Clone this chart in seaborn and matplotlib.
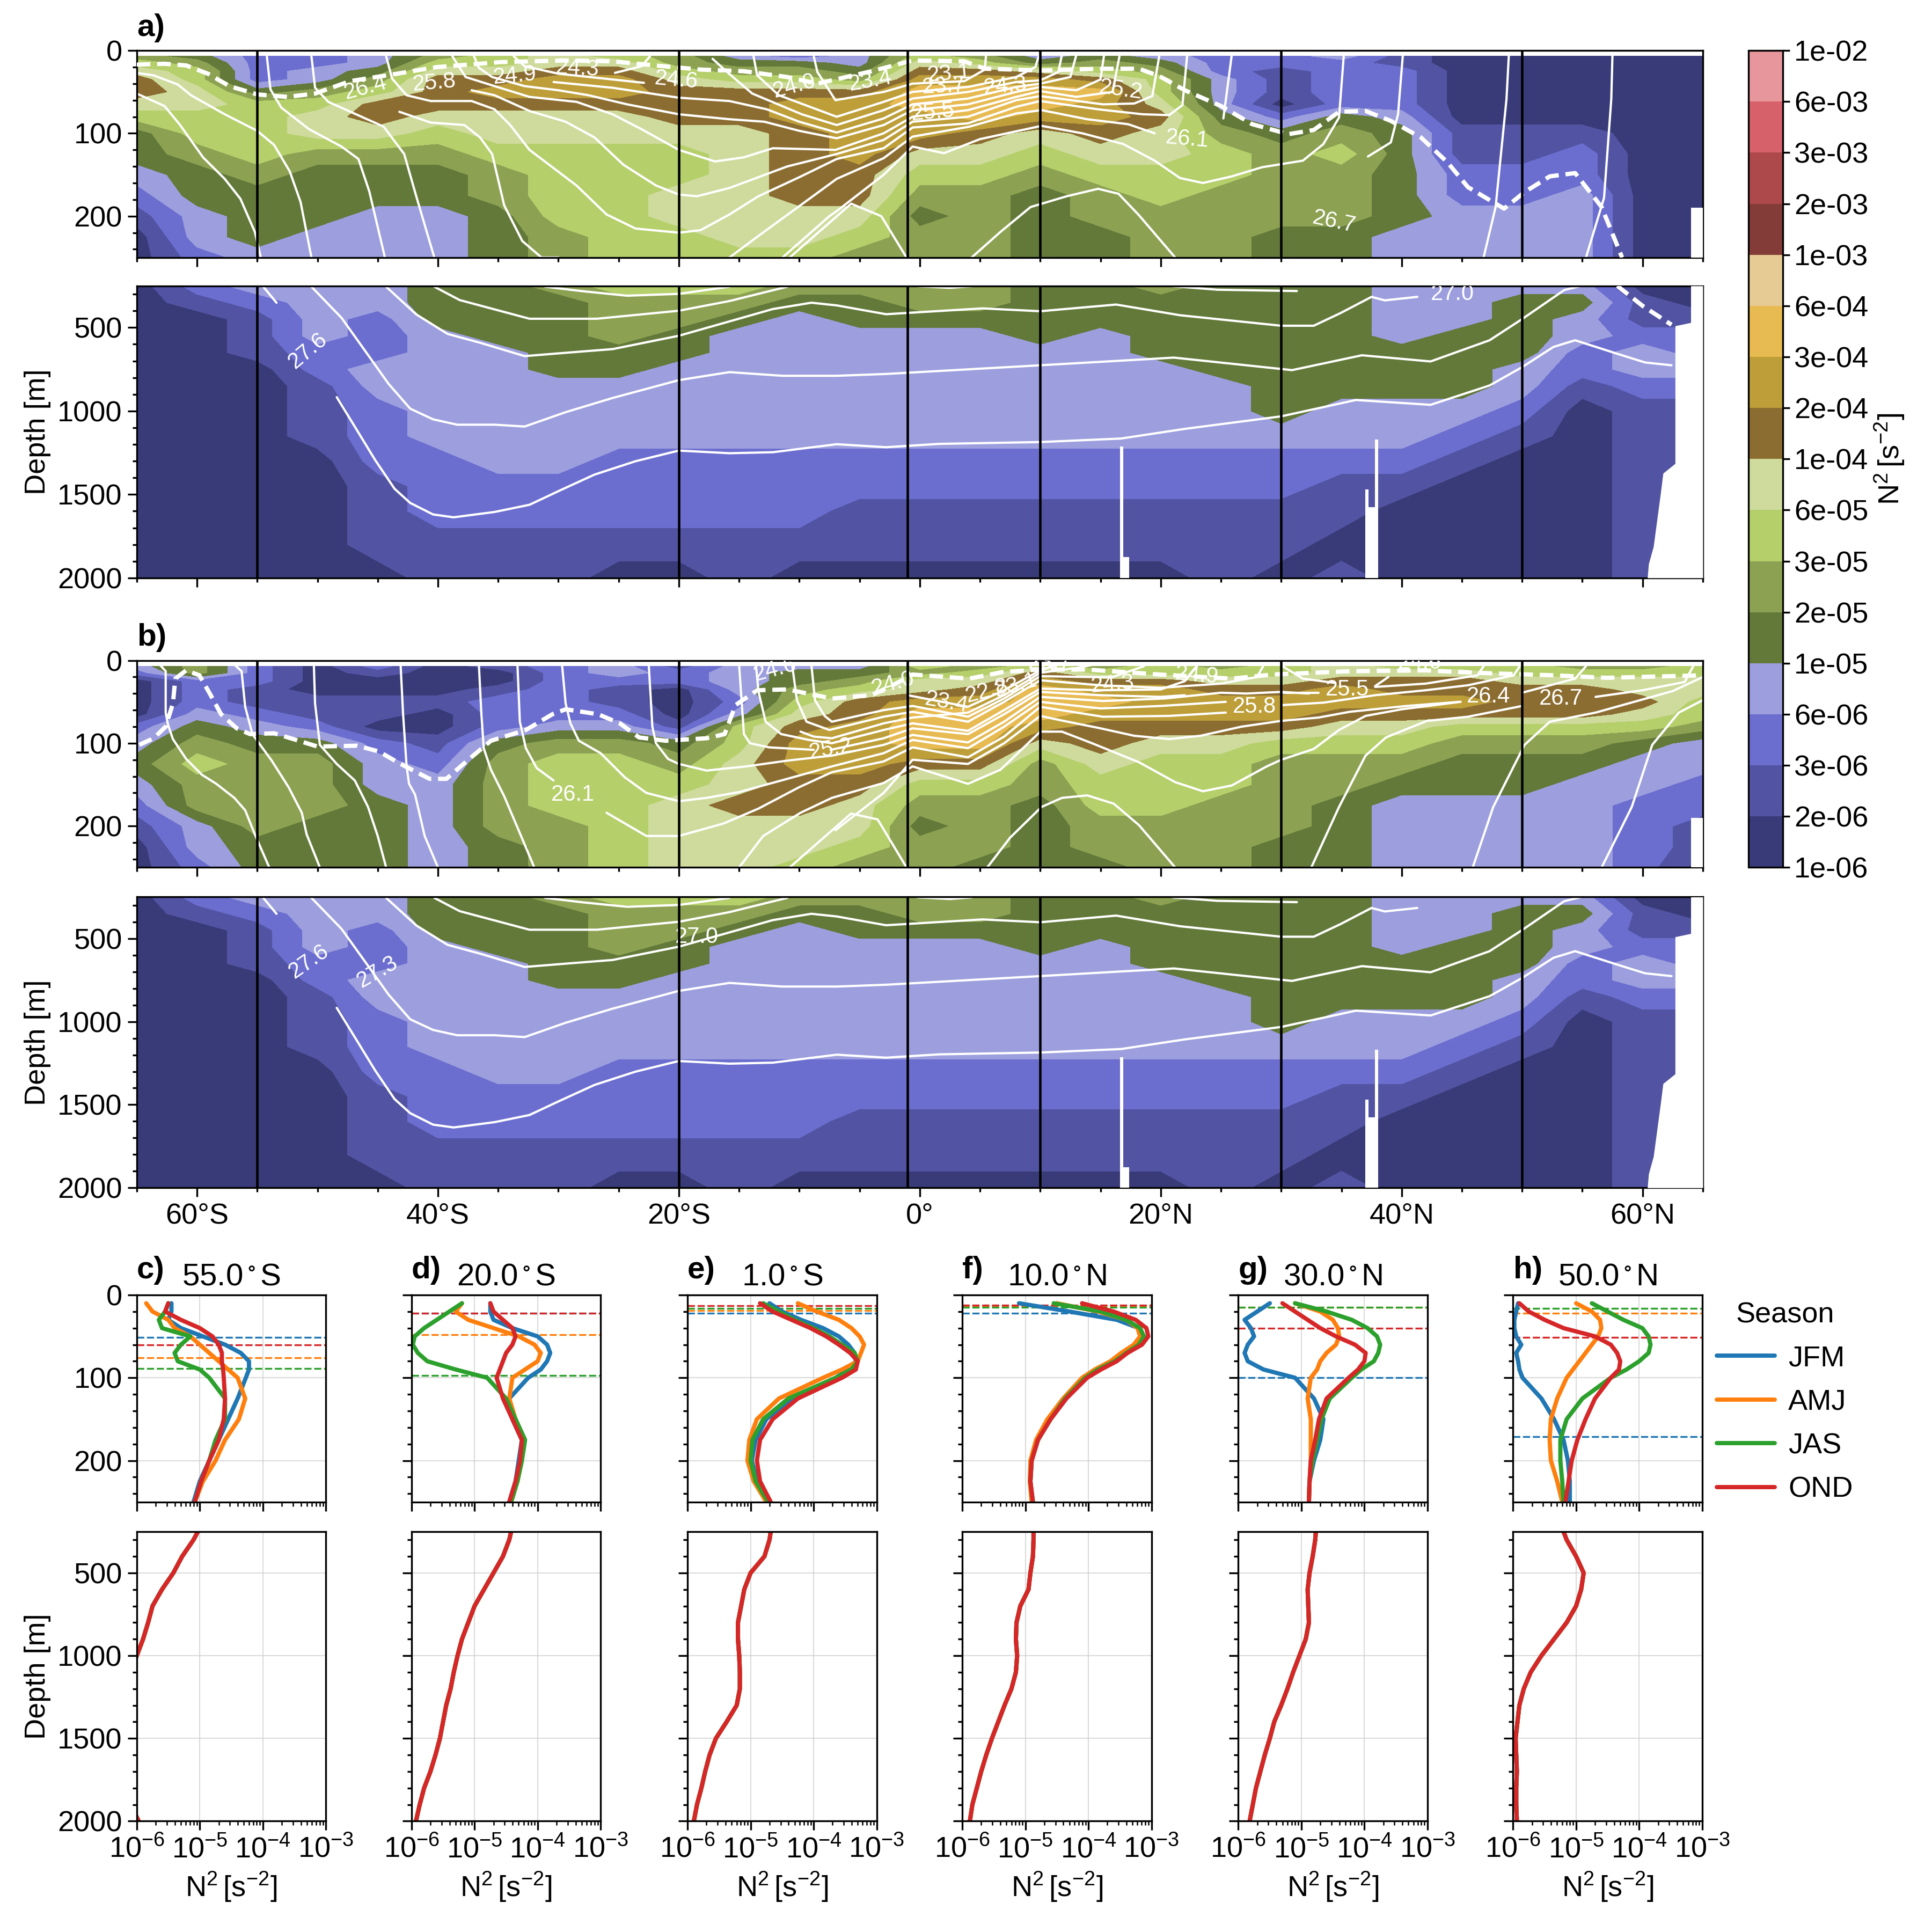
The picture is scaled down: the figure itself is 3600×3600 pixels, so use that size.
import numpy as np
import pandas as pd
import matplotlib
matplotlib.use("Agg")
import matplotlib.pyplot as plt
from matplotlib.colors import BoundaryNorm
from matplotlib.cm import ScalarMappable
from matplotlib.ticker import FixedLocator, NullFormatter, LogLocator
import seaborn as sns

# section grids, colour class of each cell (0 = 1e-06..2e-06 ... 15 = 6e-03..1e-02)
section_lat = [-65, -60, -55, -50, -45, -40, -35, -30, -25, -20, -15, -10, -5, 0, 5, 10, 15, 20, 25, 30, 35, 40, 45, 50, 55, 60, 65]
upper_depth = [7, 15, 25, 35, 50, 65, 80, 100, 125, 150, 175, 200, 225, 250]
deep_depth = [250, 350, 450, 550, 650, 750, 850, 1000, 1150, 1300, 1450, 1600, 1800, 2000]

a_upper = [
    [5, 6, 7, 8, 8, 7, 6, 4, 4, 3, 2, 1, 0, 0],
    [4, 5, 6, 6, 7, 7, 6, 6, 5, 4, 4, 3, 3, 2],
    [2, 2, 2, 2, 4, 6, 6, 6, 6, 5, 4, 4, 4, 3],
    [2, 2, 3, 3, 5, 6, 7, 7, 5, 4, 4, 4, 3, 3],
    [3, 3, 4, 5, 6, 8, 8, 7, 5, 4, 4, 3, 3, 3],
    [5, 6, 7, 8, 8, 8, 7, 6, 5, 4, 4, 3, 3, 3],
    [6, 6, 7, 8, 9, 8, 7, 7, 6, 5, 5, 4, 4, 4],
    [7, 7, 8, 9, 9, 8, 7, 7, 6, 6, 6, 6, 5, 5],
    [6, 7, 8, 9, 9, 8, 7, 7, 6, 6, 6, 6, 6, 6],
    [5, 5, 6, 7, 8, 8, 8, 7, 6, 6, 7, 7, 6, 6],
    [3, 4, 5, 6, 8, 8, 8, 7, 7, 7, 7, 7, 7, 6],
    [2, 4, 5, 6, 8, 9, 9, 8, 8, 8, 8, 7, 7, 6],
    [3, 3, 4, 5, 8, 9, 9, 9, 9, 8, 8, 7, 6, 5],
    [6, 7, 8, 9, 10, 10, 9, 9, 7, 6, 5, 4, 5, 5],
    [5, 6, 8, 9, 10, 10, 10, 8, 7, 6, 5, 5, 5, 5],
    [3, 4, 7, 9, 10, 10, 9, 7, 6, 5, 4, 4, 4, 4],
    [4, 5, 6, 8, 10, 9, 9, 8, 7, 6, 5, 5, 4, 4],
    [3, 4, 5, 6, 6, 7, 8, 7, 7, 6, 6, 5, 5, 5],
    [2, 2, 2, 3, 3, 3, 4, 5, 6, 6, 5, 5, 5, 5],
    [2, 2, 1, 1, 1, 0, 2, 4, 5, 5, 5, 5, 4, 4],
    [3, 2, 2, 2, 2, 2, 4, 5, 6, 5, 5, 5, 4, 4],
    [1, 1, 2, 2, 2, 2, 3, 4, 4, 4, 4, 4, 3, 3],
    [0, 0, 0, 0, 0, 0, 0, 1, 1, 2, 2, 3, 3, 3],
    [0, 0, 0, 0, 0, 0, 0, 1, 1, 2, 2, 3, 3, 3],
    [0, 0, 0, 0, 0, 0, 0, 1, 2, 2, 3, 3, 3, 3],
    [0, 0, 0, 0, 0, 0, 0, 0, 0, 0, 0, 0, 0, 0],
    [0, 0, 0, 0, 0, 0, 0, 0, 0, 0, 0, 0, 0, 0],
]
b_upper = [
    [3, 2, 0, 0, 0, 0, 2, 3, 4, 3, 2, 1, 0, 0],
    [5, 5, 2, 2, 2, 3, 4, 5, 6, 5, 5, 3, 3, 2],
    [2, 2, 2, 1, 1, 2, 3, 4, 5, 5, 5, 5, 4, 4],
    [0, 0, 0, 0, 1, 1, 2, 4, 5, 5, 5, 4, 4, 4],
    [2, 1, 0, 0, 1, 1, 0, 2, 3, 3, 4, 4, 4, 4],
    [0, 0, 0, 0, 1, 0, 0, 1, 2, 3, 3, 3, 3, 3],
    [1, 0, 0, 1, 2, 2, 2, 4, 5, 5, 5, 5, 4, 4],
    [2, 2, 2, 2, 2, 2, 3, 5, 6, 6, 6, 5, 5, 5],
    [3, 3, 2, 1, 1, 2, 3, 5, 6, 6, 6, 6, 6, 6],
    [1, 2, 2, 0, 0, 0, 1, 4, 5, 6, 7, 7, 7, 7],
    [3, 3, 3, 3, 2, 3, 6, 6, 7, 7, 8, 7, 7, 7],
    [3, 4, 4, 5, 6, 7, 8, 9, 9, 8, 8, 7, 7, 6],
    [3, 4, 5, 6, 8, 8, 9, 9, 9, 8, 7, 7, 6, 5],
    [6, 5, 7, 7, 9, 10, 10, 10, 8, 6, 5, 4, 5, 5],
    [5, 6, 7, 8, 9, 10, 10, 10, 8, 6, 5, 5, 5, 4],
    [6, 8, 9, 10, 10, 10, 9, 7, 5, 5, 4, 4, 4, 4],
    [5, 6, 8, 9, 10, 9, 8, 8, 7, 6, 6, 5, 5, 4],
    [6, 6, 8, 9, 9, 9, 8, 7, 6, 6, 6, 5, 5, 5],
    [5, 6, 7, 8, 9, 9, 8, 7, 6, 6, 5, 5, 5, 5],
    [6, 6, 7, 8, 9, 9, 8, 6, 5, 5, 5, 5, 4, 4],
    [7, 7, 8, 9, 9, 8, 7, 6, 5, 5, 4, 4, 4, 4],
    [6, 7, 8, 8, 9, 8, 7, 6, 5, 4, 3, 3, 3, 3],
    [6, 7, 8, 8, 9, 8, 6, 5, 4, 4, 3, 3, 3, 3],
    [6, 6, 7, 8, 8, 8, 6, 5, 4, 4, 3, 3, 3, 3],
    [5, 6, 7, 8, 8, 8, 6, 5, 4, 3, 3, 3, 3, 3],
    [5, 6, 7, 7, 8, 7, 6, 4, 3, 3, 2, 2, 2, 2],
    [6, 6, 7, 7, 6, 6, 5, 3, 3, 2, 2, 1, 1, 0],
]
n2_deep = [
    [0, 0, 0, 0, 0, 0, 0, 0, 0, 0, 0, 0, 0, 0],
    [2, 1, 0, 0, 0, 0, 0, 0, 0, 0, 0, 0, 0, 0],
    [3, 2, 1, 1, 1, 0, 0, 0, 0, 0, 0, 0, 0, 0],
    [3, 3, 3, 3, 2, 2, 1, 1, 1, 0, 0, 0, 0, 0],
    [3, 3, 2, 2, 2, 3, 3, 2, 2, 2, 1, 1, 1, 0],
    [4, 4, 4, 3, 3, 3, 3, 3, 3, 2, 2, 2, 1, 1],
    [4, 4, 4, 4, 3, 3, 3, 3, 3, 3, 2, 2, 1, 1],
    [5, 4, 4, 4, 4, 4, 3, 3, 3, 3, 2, 2, 1, 1],
    [6, 5, 5, 5, 4, 4, 3, 3, 3, 2, 2, 2, 1, 0],
    [6, 5, 5, 4, 4, 3, 3, 3, 3, 2, 2, 2, 1, 0],
    [6, 5, 4, 3, 3, 3, 3, 3, 3, 2, 2, 2, 1, 1],
    [5, 4, 3, 3, 3, 3, 3, 3, 3, 2, 2, 2, 1, 0],
    [5, 4, 4, 3, 3, 3, 3, 3, 3, 2, 2, 1, 1, 0],
    [5, 5, 4, 3, 3, 3, 3, 3, 3, 2, 2, 1, 1, 0],
    [5, 5, 4, 3, 3, 3, 3, 3, 3, 2, 2, 1, 1, 0],
    [4, 4, 4, 4, 3, 3, 3, 3, 3, 2, 2, 1, 1, 0],
    [4, 4, 4, 3, 3, 3, 3, 3, 3, 2, 2, 1, 1, 0],
    [5, 4, 4, 4, 4, 3, 3, 3, 3, 2, 2, 1, 1, 0],
    [4, 4, 4, 4, 4, 4, 3, 3, 3, 2, 2, 1, 1, 1],
    [4, 4, 4, 4, 4, 4, 4, 4, 3, 2, 2, 1, 1, 0],
    [4, 4, 4, 4, 4, 4, 4, 3, 3, 2, 1, 1, 0, 1],
    [3, 3, 3, 3, 4, 4, 4, 3, 3, 2, 1, 0, 0, 0],
    [3, 3, 3, 4, 4, 4, 4, 3, 2, 1, 0, 0, 0, 0],
    [3, 4, 4, 4, 4, 3, 3, 2, 1, 0, 0, 0, 0, 0],
    [3, 4, 3, 3, 2, 2, 1, 0, 0, 0, 0, 0, 0, 0],
    [0, 1, 1, 2, 3, 3, 2, 1, 1, 1, 1, 1, 1, 1],
    [0, 0, 1, 2, 2, 3, 2, 1, 1, 1, 1, 1, 1, 1],
]

# isopycnals (latitude, depth)
a_iso = [
    ([-65, -63.6, -61.6, -60.5, -57.7, -55, -53.6, -52.3, -51.4, -50.5], [27, 30, 41, 54, 77, 97, 114, 146, 183, 250]),
    ([-65, -62.7, -61.4, -59.5, -57.7, -56.4, -55.2, -54.7], [52, 67, 90, 129, 155, 179, 219, 250]),
    ([-54.2, -53.9, -53, -50.7, -48, -46.6, -45.7, -44.4], [7, 47, 69, 95, 116, 131, 170, 250]),
    ([-50.5, -50.2, -49.1, -46.8, -44.5, -42.8, -41.8, -40.3], [7, 45, 62, 77, 92, 125, 176, 250]),
    ([-44.3, -43.8, -42.6, -40.6, -37.2, -35.3, -34, -32.4, -30.4, -28.5, -26, -23.6, -20, -18.2, -15.8, -13.4, -10, -6.9, -3, -0.6, 4, 8, 10, 14.8, 18.5, 20.7, 21.8, 22.2],
     [7, 34, 54, 61, 61, 71, 90, 120, 142, 163, 198, 215, 220, 217, 198, 176, 153, 131, 118, 93, 88, 68, 61, 71, 77, 78, 66, 5]),
    ([-43.2, -40.6, -37.8, -36.5, -35.5, -34.5, -33, -31.4, -30], [74, 87, 90, 105, 125, 187, 230, 250, 250]),
    ([-38.8, -37.7, -35.3, -32.4, -28.5, -25.5, -23.1, -20, -17, -14.6, -12.2, -9.5, -7, -3, -0.6, 4, 8, 10, 13, 16, 16.6], [7, 32, 43, 56, 62, 77, 95, 120, 134, 129, 118, 119, 120, 100, 80, 72, 56, 49, 56, 50, 5]),
    ([-37, -36.6, -35.5, -32.8, -30, -27.5, -24.3, -20, -15.8, -12.9, -10, -6.9, -3, -0.6, 4, 8, 10, 13, 15, 15.3], [7, 21, 32, 43, 48, 54, 65, 77, 83, 86, 97, 106, 90, 72, 65, 50, 44, 48, 35, 5]),
    ([-33.7, -32.8, -30, -22.9], [7, 19, 28, 39]),
    ([-30.4, -25.5, -20, -15.8, -12.7, -10, -6.9, -3, -0.6, 4, 8, 10, 12.5, 13], [38, 45, 57, 61, 71, 86, 99, 82, 65, 58, 44, 40, 32, 5]),
    ([-37.2, -35.3, -32.4, -29.4, -27, -24.6, -21.9, -20, -18.5, -15.8, -13.4, -11, -6.9, -3, -0.6, 4, 8, 10, 15.2, 17.8, 19.3, 19.9], [48, 54, 73, 86, 105, 138, 163, 174, 176, 166, 153, 140, 125, 108, 86, 80, 60, 55, 65, 64, 55, 5]),
    ([-25.3, -23.1, -22.4], [27, 19, 7]),
    ([-17.2, -16, -13.9, -9.8, -6.9, -3, -0.6, 4, 8, 10, 11.5, 11.8], [10, 26, 52, 77, 90, 72, 58, 50, 38, 36, 26, 5]),
    ([-13.8, -13.5, -11.7, -6.9, -3, -0.6, 4, 8, 9.6, 9.9], [7, 30, 54, 80, 62, 50, 44, 32, 20, 5]),
    ([-8.8, -8.5, -7, -3, -0.6, 3.7, 5.4, 5.5], [7, 26, 60, 50, 40, 37, 23, 5]),
    ([-15.8, -13.4, -6.9, -3, -0.6, 4.1, 8, 10.1, 13.9, 17.3, 19.5], [250, 224, 155, 130, 104, 92, 76, 72, 83, 89, 100]),
    ([-11.4, -7.5, -6.9, -3, -0.6, 2, 5, 10.1, 13.5, 16.9, 19.5, 21.6, 23.5, 25.9, 28.4, 31.8, 33.5, 34.8, 35.2],
     [250, 200, 194, 150, 116, 124, 107, 91, 100, 113, 133, 154, 160, 152, 141, 133, 113, 81, 5]),
    ([-10.8, -5.7, -3.2, -1.1], [250, 185, 200, 250]),
    ([4.3, 6.7, 9.2, 12.2, 14.8, 16.5, 18.2, 21.2], [250, 219, 189, 176, 167, 173, 199, 250]),
    ([25.2, 25.9], [82, 5]),
    ([37.2, 39.1, 39.7, 40.1], [128, 111, 77, 5]),
    ([46.8, 47.8, 48.7, 48.9], [250, 189, 59, 5]),
    ([55.3, 56.8, 57.4, 57.5], [250, 178, 59, 5]),
]
b_iso = [
    ([-63.1, -62.6, -62.6, -62.4, -62, -60.9, -59.6, -58.4, -56.9, -56, -55.2, -54], [5, 13, 63, 78, 95, 119, 138, 149, 166, 181, 210, 250]),
    ([-56.9, -56.3, -56, -55.4, -53.8, -52.4, -51.3, -50.9, -49.8], [5, 13, 56, 89, 121, 153, 184, 210, 250]),
    ([-50.3, -50.2, -49.8, -48.4, -46.9, -45.8, -45, -44.3], [5, 52, 102, 125, 145, 177, 212, 250]),
    ([-43.1, -42.9, -42.6, -42.4, -41.9, -41.1, -40], [5, 63, 128, 149, 162, 212, 250]),
    ([-36.6, -36.4, -36.2, -35.6, -34.5, -33.1, -32], [5, 63, 106, 132, 164, 212, 250]),
    ([-33.4, -33.2, -32.7, -31.8, -30.4], [5, 74, 106, 130, 145]),
    ([-26, -22.7, -20, -16.3, -13.4, -10, -7.3, -3, -0.6, 4, 7, 10, 15.2, 20.7, 25.4], [184, 212, 212, 197, 179, 153, 135, 122, 105, 117, 92, 56, 68, 67, 63]),
    ([30, 33.5, 37.8, 42, 45.5, 49.3, 49.8], [54, 51, 42, 36, 30, 18, 7]),
    ([-29.7, -29.4, -29, -28.3, -26.5, -24.5, -22.7, -20, -17.7, -15, -11, -7.3, -3, -0.6, 4, 7, 10, 15, 20, 25.4], [5, 52, 76, 97, 112, 141, 160, 170, 166, 159, 143, 128, 112, 96, 106, 80, 50, 58, 55, 50]),
    ([30, 33.1], [39, 39]),
    ([37.8, 42, 46.3, 46.8], [32, 28, 18, 7]),
    ([-22.5, -22.2, -21.9, -20.9, -20, -17.7, -14.4, -11, -7.3, -3, -0.6, 4, 7, 10, 15.2, 20.3, 25, 27.1, 30, 32.3], [5, 80, 100, 119, 125, 133, 128, 121, 115, 102, 90, 99, 74, 44, 49, 46, 39, 40, 38, 40]),
    ([-15, -13, -9.9, -7.3, -3, -0.6, 4, 6.7, 10, 11.8, 14.3, 18.2, 21.2, 23.5, 25.9, 28.8, 30, 32.7, 34.8, 37, 40, 44.9],
     [250, 212, 184, 166, 148, 128, 149, 132, 86, 86, 100, 123, 147, 158, 151, 128, 120, 107, 84, 67, 59, 50]),
    ([50, 54.4, 55.3], [39, 22, 7]),
    ([-15, -14.6, -14.1, -12.5, -8.8], [5, 89, 100, 105, 108]),
    ([-7.4, -3, -0.6, 4, 7, 10, 15, 20, 22], [108, 94, 82, 89, 65, 38, 42, 44, 42]),
    ([-13.6, -13.4, -12.8, -11.5, -9.2, -7.3, -3, -0.6, 4, 7, 10, 15, 20, 22, 23], [5, 37, 74, 89, 96, 100, 84, 76, 85, 60, 34, 36, 35, 25, 7]),
    ([-10.6, -10.2, -9.4, -7.5, -3, -0.6, 4, 7, 10, 15, 20, 25, 28, 28.5], [5, 48, 74, 84, 68, 62, 74, 50, 24, 30, 33, 28, 20, 7]),
    ([-9, -8.7, -7.9, -7.3, -3, -0.6, 4, 7, 10, 14, 16, 18.6], [5, 48, 67, 74, 60, 55, 68, 46, 19, 20, 20, 7]),
    ([-9.9, -8.8, -7.3, -3, -0.6, 4, 7, 10, 13, 14.5], [86, 92, 94, 76, 69, 63, 42, 15, 9, 5]),
    ([-1, 4, 7, 10, 11.5], [42, 56, 36, 12, 5]),
    ([-7, -3, -0.6, 4, 7, 10, 11.6, 15, 17.8, 20.7, 23.3, 26.7, 30, 33.1, 35.7, 40.4, 44.8], [205, 160, 120, 125, 100, 67, 72, 82, 91, 95, 91, 80, 73, 69, 62, 55, 50]),
    ([-10.8, -5.7, -3.5, -1.1], [250, 185, 192, 250]),
    ([5.6, 7.5, 10.1, 11.8, 13.9, 16.1, 18.2, 21.2], [250, 214, 177, 166, 163, 173, 199, 250]),
    ([32.5, 34.8, 37, 38.7, 42.1, 45.5, 50], [250, 177, 115, 93, 73, 68, 55]),
    ([56.1, 60, 63.5, 64.2], [44, 36, 26, 7]),
    ([45.9, 47.6, 50.2, 52.3, 56.1, 62.5, 65], [250, 177, 102, 74, 63, 37, 20]),
    ([56.6, 59.1, 60.8, 63, 65], [250, 177, 102, 63, 48]),
    ([30.1, 31.8, 34.4], [7, 22, 27]),
    ([37.8, 38.9], [31, 20]),
]
deep_iso = [
    ([-54.5, -53.4], [255, 351]),
    ([-48.4, -47, -45.2, -43.6, -42.3, -40.4, -38.7, -35.3, -32.4, -29.9, -27, -23.6, -20, -15.8, -12.2, -6.9, -2.8, 1.6, 10, 16.7, 22, 30, 36.2, 42.4, 47.3, 50, 52.6, 54.4, 57.9, 60.2, 62.4],
     [917, 1082, 1295, 1466, 1551, 1620, 1637, 1605, 1562, 1477, 1381, 1301, 1237, 1253, 1247, 1199, 1217, 1197, 1186, 1165, 1107, 1032, 934, 963, 847, 737, 616, 576, 657, 709, 726]),
    ([-50.5, -48, -46.1, -44.1, -42.3, -40.4, -38.4, -35.3, -32.8, -29.4, -25.5, -20, -15.8, -11.4, -6.9, -2.8, 10, 21.1, 30.9, 36.7, 42.4, 47.3, 50, 53.5, 54.8],
     [255, 442, 634, 837, 986, 1050, 1082, 1082, 1093, 1007, 922, 815, 767, 789, 789, 778, 726, 680, 755, 666, 703, 576, 449, 275, 252]),
    ([-44.3, -41.8, -39.2, -36.5, -32.8, -29.2, -25.5, -20, -15.8, -12.2, -9, -6.9, -2.8, 5.2, 10, 16.3, 21.6, 30, 32.7, 34.9, 37.5, 38.6, 41.3],
     [255, 421, 538, 591, 671, 650, 629, 549, 463, 389, 351, 367, 420, 385, 402, 362, 426, 489, 489, 414, 316, 337, 316]),
    ([-40.3, -38.2, -32.4, -26.8, -20, -15.8, -11], [255, 335, 447, 447, 399, 341, 255]),
    ([-31.1, -28, -24.3, -20, -15.8], [255, 282, 309, 298, 255]),
    ([21, 24.7, 31.3], [252, 273, 281]),
    ([-0.2, 2.5, 4.3], [252, 262, 252]),
]

# dashed mixed layer lines
a_mld_lat = [-65, -62.7, -60.9, -59.1, -57.3, -55, -52.5, -50.2, -47.3, -43.4, -40.1, -34.8, -29.4, -25.5, -22, -18.2, -14.6, -11, -8.5, -4, -0.6, 3.7, 5.4, 10.1, 15.2, 18.2, 19.9, 22, 25, 27.6, 30.6, 32.7, 34.8, 37, 39.1, 41.6, 43.8, 45.5, 48.5, 50.2, 52.3, 54.4, 56.6, 58.3]
a_mld_depth = [17, 16, 18, 28, 43, 53, 56, 52, 37, 28, 20, 14, 12, 13, 18, 23, 25, 32, 40, 25, 12, 13, 22, 24, 22, 22, 31, 48, 67, 89, 101, 96, 74, 73, 85, 105, 135, 165, 191, 171, 152, 148, 189, 250]
a_mld_deep_lat = [57.9, 60, 62.4]
a_mld_deep_depth = [250, 370, 483]
b_mld_lat = [-64.8, -63.6, -62.6, -62, -61.8, -60.9, -59.8, -58.9, -58, -56.7, -55.6, -53.6, -52, -50, -46.7, -44.9, -43.1, -40.7, -39.3, -37.4, -35.6, -32.7, -30.5, -29.4, -26.7, -24.9, -23.3, -21.1, -17.7, -16.2, -15.3, -13.5, -11, -7.3, -4, -2, -0.6, 4.1, 6.9, 10, 13.9, 19.9, 25.9, 29.3, 35.7, 42, 46.3, 52.7, 57, 65]
b_mld_depth = [102, 94, 80, 52, 22, 12, 18, 41, 65, 82, 89, 88, 95, 104, 103, 110, 125, 143, 143, 119, 97, 84, 65, 59, 65, 76, 93, 97, 94, 89, 54, 36, 35, 46, 42, 28, 17, 22, 14, 11, 11, 17, 22, 17, 13, 12, 15, 18, 21, 18]

# contour labels
a_upper_labels = ["26.4", "25.8", "24.9", "24.3", "24.6", "24.0", "23.4", "23.1", "23.7", "24.3", "25.5", "25.2", "26.1", "26.7"]
a_upper_label_lat = [-46, -40.3, -33.6, -28.4, -20.2, -10.4, -4.1, 2.4, 2, 7.1, 1.1, 16.7, 22.2, 34.4]
a_upper_label_depth = [45, 39, 31, 22, 36, 43, 37, 28, 43, 43, 75, 48, 107, 207]
a_upper_label_rot = [15, 5, 5, -3, -5, 15, 10, 5, 3, 5, 5, -8, -5, -12]
b_upper_labels = ["24.6", "26.1", "25.2", "24.0", "23.4", "22.8", "23.1", "24.3", "24.9", "25.8", "25.5", "26.4", "26.7", "23.7", "24.6"]
b_upper_label_lat = [-12, -28.8, -7.4, -2.2, 2.2, 5.6, 8, 16, 23, 27.8, 35.5, 47.2, 53.2, 10.8, 41.5]
b_upper_label_depth = [11, 162, 107, 28, 51, 37, 30, 29, 18, 56, 35, 44, 46, 3, 3]
b_upper_label_rot = [15, 0, 10, 15, -10, 15, 15, 5, -5, 0, 0, 0, 0, 0, 0]
deep_a_labels = ["27.6", "27.0"]
deep_a_label_lat = [-50.8, 44.2]
deep_a_label_depth = [640, 298]
deep_a_label_rot = [40, 0]
deep_b_labels = ["27.6", "27.3", "27.0"]
deep_b_label_lat = [-50.7, -45, -18.5]
deep_b_label_depth = [640, 700, 490]
deep_b_label_rot = [35, 30, 0]

# places without data at the bottom and at the northern end
ridge1_lat = [16.6, 16.9, 17.4]
ridge1_top = [1213, 1875, 1875]
ridge2_lat = [36.96, 37.23, 37.76, 38.03]
ridge2_top = [1471, 1575, 1170, 1170]
coast_depth = [250, 470, 490, 1315, 1373, 1488, 1812, 1916, 2000]
coast_lat = [64, 64, 62.7, 62.7, 61.7, 61.5, 60.9, 60.5, 60.4]
upper_coast_depth = [190, 250]
upper_coast_lat = [64, 64]

# profiles
seasons = ["JFM", "AMJ", "JAS", "OND"]
season_colors = ["#1f77b4", "#ff7f0e", "#2ca02c", "#d62728"]
station_lat = [-55, -20, -1, 10, 30, 50]
station_titles = ["55.0$^\\circ$S", "20.0$^\\circ$S", "1.0$^\\circ$S", "10.0$^\\circ$N", "30.0$^\\circ$N", "50.0$^\\circ$N"]
station_tags = ["c)", "d)", "e)", "f)", "g)", "h)"]
profile_depth = [10, 20, 30, 40, 50, 60, 70, 80, 90, 100, 125, 150, 175, 200, 225, 250]
profile_deep_depth = [250, 300, 400, 500, 600, 700, 800, 900, 1000, 1100, 1200, 1300, 1400, 1500, 1600, 1700, 1800, 1900, 2000]

# log10(N2)
c_jfm = [-5.45, -5.45, -5.5, -5.3, -4.95, -4.6, -4.35, -4.22, -4.22, -4.27, -4.4, -4.55, -4.7, -4.85, -5.0, -5.1]
c_amj = [-5.85, -5.75, -5.5, -5.4, -5.15, -5.0, -4.85, -4.7, -4.55, -4.4, -4.28, -4.38, -4.6, -4.75, -4.95, -5.08]
c_jas = [-5.5, -5.55, -5.65, -5.6, -5.15, -5.3, -5.4, -5.35, -5.0, -4.85, -4.6, -4.6, -4.75, -4.85, -4.98, -5.08]
c_ond = [-5.5, -5.55, -5.3, -5.0, -4.8, -4.7, -4.65, -4.65, -4.63, -4.62, -4.6, -4.62, -4.7, -4.85, -4.98, -5.08]
d_jfm = [-4.75, -4.75, -4.7, -4.4, -4.0, -3.85, -3.8, -3.85, -3.95, -4.15, -4.45, -4.4, -4.25, -4.3, -4.35, -4.45]
d_amj = [-5.2, -5.3, -5.1, -4.7, -4.3, -4.05, -3.95, -4.0, -4.2, -4.4, -4.45, -4.35, -4.2, -4.25, -4.32, -4.42]
d_jas = [-5.2, -5.4, -5.6, -5.8, -5.95, -5.98, -5.9, -5.75, -5.3, -4.8, -4.5, -4.35, -4.2, -4.25, -4.32, -4.42]
d_ond = [-4.75, -4.7, -4.55, -4.4, -4.35, -4.4, -4.5, -4.55, -4.6, -4.65, -4.55, -4.4, -4.25, -4.28, -4.35, -4.45]
e_jfm = [-4.7, -4.5, -4.2, -3.85, -3.6, -3.45, -3.35, -3.33, -3.45, -3.65, -4.35, -4.75, -4.92, -4.98, -4.9, -4.7]
e_amj = [-4.25, -3.95, -3.6, -3.4, -3.27, -3.2, -3.25, -3.3, -3.55, -3.85, -4.55, -4.9, -5.02, -5.05, -4.95, -4.75]
e_jas = [-4.8, -4.55, -4.3, -4.0, -3.75, -3.55, -3.35, -3.3, -3.4, -3.65, -4.4, -4.8, -4.97, -5.0, -4.92, -4.72]
e_ond = [-4.85, -4.65, -4.35, -4.05, -3.8, -3.6, -3.42, -3.3, -3.33, -3.55, -4.25, -4.65, -4.85, -4.9, -4.85, -4.68]
f_jfm = [-5.1, -4.3, -3.55, -3.2, -3.15, -3.25, -3.45, -3.6, -3.85, -4.05, -4.35, -4.6, -4.8, -4.9, -4.92, -4.9]
f_amj = [-4.5, -3.85, -3.4, -3.22, -3.18, -3.28, -3.48, -3.65, -3.9, -4.1, -4.4, -4.65, -4.83, -4.92, -4.93, -4.9]
f_jas = [-4.55, -3.8, -3.4, -3.18, -3.12, -3.2, -3.4, -3.58, -3.85, -4.05, -4.37, -4.6, -4.8, -4.9, -4.92, -4.88]
f_ond = [-4.1, -3.6, -3.25, -3.08, -3.05, -3.15, -3.38, -3.55, -3.8, -4.02, -4.35, -4.6, -4.8, -4.9, -4.92, -4.88]
g_jfm = [-5.5, -5.7, -5.9, -5.8, -5.75, -5.85, -5.9, -5.85, -5.6, -5.1, -4.8, -4.65, -4.7, -4.8, -4.87, -4.88]
g_amj = [-5.1, -4.7, -4.5, -4.42, -4.4, -4.45, -4.6, -4.7, -4.75, -4.85, -4.9, -4.85, -4.85, -4.85, -4.87, -4.88]
g_jas = [-5.1, -4.6, -4.2, -3.95, -3.8, -3.75, -3.78, -3.85, -4.05, -4.2, -4.55, -4.68, -4.75, -4.82, -4.87, -4.88]
g_ond = [-5.3, -5.1, -4.9, -4.7, -4.45, -4.15, -3.98, -4.0, -4.1, -4.25, -4.6, -4.72, -4.78, -4.85, -4.87, -4.88]
h_jfm = [-5.92, -5.95, -5.98, -5.98, -5.95, -5.87, -5.95, -5.92, -5.9, -5.85, -5.55, -5.35, -5.2, -5.13, -5.1, -5.1]
h_amj = [-5.0, -4.75, -4.62, -4.6, -4.65, -4.75, -4.85, -4.95, -5.05, -5.15, -5.3, -5.4, -5.42, -5.4, -5.3, -5.22]
h_jas = [-4.75, -4.5, -4.25, -3.95, -3.85, -3.82, -3.85, -4.0, -4.2, -4.45, -4.9, -5.15, -5.25, -5.25, -5.22, -5.2]
h_ond = [-5.9, -5.75, -5.5, -5.2, -4.7, -4.45, -4.35, -4.3, -4.32, -4.45, -4.7, -4.85, -4.98, -5.07, -5.12, -5.17]

c_deep = [-5.03, -5.1, -5.28, -5.42, -5.6, -5.75, -5.82, -5.9, -6.0, -6.1, -6.2, -6.2, -6.2, -6.2, -6.2, -6.2, -6.2, -6.1, -5.97]
d_deep = [-4.42, -4.45, -4.55, -4.7, -4.85, -5.0, -5.1, -5.2, -5.27, -5.33, -5.38, -5.45, -5.5, -5.55, -5.62, -5.7, -5.8, -5.87, -5.93]
e_deep = [-4.68, -4.7, -4.78, -5.0, -5.1, -5.15, -5.2, -5.2, -5.18, -5.17, -5.17, -5.22, -5.38, -5.55, -5.65, -5.72, -5.78, -5.85, -5.9]
f_deep = [-4.87, -4.87, -4.88, -4.92, -4.95, -5.08, -5.14, -5.15, -5.13, -5.15, -5.22, -5.33, -5.43, -5.53, -5.62, -5.7, -5.77, -5.84, -5.88]
g_deep = [-4.77, -4.78, -4.82, -4.87, -4.9, -4.89, -4.88, -4.93, -5.03, -5.13, -5.22, -5.32, -5.43, -5.5, -5.58, -5.65, -5.72, -5.77, -5.82]
h_deep = [-5.2, -5.15, -5.0, -4.88, -4.92, -5.0, -5.15, -5.35, -5.55, -5.72, -5.83, -5.9, -5.93, -5.96, -5.95, -5.94, -5.95, -5.95, -5.94]

# mixed layer depth per station, order JFM AMJ JAS OND
c_mld = [51, 76, 89, 60]
d_mld = [22, 48, 97, 22]
e_mld = [22, 19, 16, 13]
f_mld = [22, 13, 15, 12]
g_mld = [100, 15, 15, 40]
h_mld = [171, 22, 16, 51]

upper_profiles = [[c_jfm, c_amj, c_jas, c_ond], [d_jfm, d_amj, d_jas, d_ond], [e_jfm, e_amj, e_jas, e_ond],
                  [f_jfm, f_amj, f_jas, f_ond], [g_jfm, g_amj, g_jas, g_ond], [h_jfm, h_amj, h_jas, h_ond]]
deep_profiles = [c_deep, d_deep, e_deep, f_deep, g_deep, h_deep]
station_mld = [c_mld, d_mld, e_mld, f_mld, g_mld, h_mld]

cbar_levels = [1e-6, 2e-6, 3e-6, 6e-6, 1e-5, 2e-5, 3e-5, 6e-5, 1e-4, 2e-4, 3e-4, 6e-4, 1e-3, 2e-3, 3e-3, 6e-3, 1e-2]
cbar_labels = ["1e-06", "2e-06", "3e-06", "6e-06", "1e-05", "2e-05", "3e-05", "6e-05", "1e-04", "2e-04", "3e-04", "6e-04", "1e-03", "2e-03", "3e-03", "6e-03", "1e-02"]

sns.set_theme(style="ticks")
plt.rcParams["font.family"] = ["Liberation Sans", "DejaVu Sans"]
plt.rcParams["mathtext.default"] = "regular"
plt.rcParams["axes.linewidth"] = 0.8
plt.rcParams["font.size"] = 13
for key in ["axes.edgecolor", "text.color", "xtick.color", "ytick.color", "axes.labelcolor"]:
    plt.rcParams[key] = "black"

FS = 13
W = 1568.0
N2_LABEL = "N$^2\\,$[s$^{-2}$]"


def box(left, top, right, bottom):
    # rectangle measured on the picture, origin top left
    return [left / W, 1 - bottom / W, (right - left) / W, (bottom - top) / W]


def draw_lines(ax, lines):
    for xs, ys in lines:
        sns.lineplot(x=xs, y=ys, ax=ax, color="white", lw=1.0, sort=False, estimator=None, legend=False, errorbar=None)


def draw_section(ax, grid, depth, lines, labels, label_lat, label_depth, label_rot):
    cmap = plt.get_cmap("tab20b")
    colors = [cmap(i) for i in range(16)]
    values = np.array(grid, dtype=float).T
    ax.contourf(section_lat, depth, values, levels=np.arange(-0.5, 16.5), colors=colors, antialiased=False)
    draw_lines(ax, lines)
    for t, la, de, ro in zip(labels, label_lat, label_depth, label_rot):
        ax.text(la, de, t, color="white", fontsize=10, rotation=ro, ha="center", va="center", rotation_mode="anchor", zorder=4, clip_on=True)
    for la in station_lat:
        ax.axvline(la, color="black", lw=1.1, zorder=5)
    ax.set_xlim(-65, 65)
    ax.set_xticks([-60, -40, -20, 0, 20, 40, 60])
    ax.xaxis.set_minor_locator(FixedLocator(np.arange(-65, 66, 5)))
    ax.tick_params(axis="x", which="major", length=4, width=0.8, labelbottom=False)
    ax.tick_params(axis="x", which="minor", length=2, width=0.8)
    ax.set_xlabel("")
    ax.set_ylabel("")


def style_depth(ax, deep):
    if deep:
        ax.set_ylim(2000, 250)
        ax.set_yticks([500, 1000, 1500, 2000])
        ax.yaxis.set_minor_locator(FixedLocator(np.arange(300, 2001, 100)))
    else:
        ax.set_ylim(250, 0)
        ax.set_yticks([0, 100, 200])
        ax.yaxis.set_minor_locator(FixedLocator(np.arange(0, 251, 20)))
    ax.tick_params(axis="y", which="major", length=4, width=0.8, labelsize=FS, pad=2.5)
    ax.tick_params(axis="y", which="minor", length=2, width=0.8)


def cover_deep(ax):
    ax.fill_between(ridge1_lat, ridge1_top, 2000, step="post", color="white", lw=0, zorder=3)
    ax.fill_between(ridge2_lat, ridge2_top, 2000, step="post", color="white", lw=0, zorder=3)
    ax.fill_betweenx(coast_depth, coast_lat, 65, color="white", lw=0, zorder=3)


fig = plt.figure(figsize=(12, 12), dpi=300, facecolor="white")

ax_a1 = fig.add_axes(box(111, 41, 1382, 209))
ax_a2 = fig.add_axes(box(111, 232, 1382, 469))
ax_b1 = fig.add_axes(box(111, 536, 1382, 704))
ax_b2 = fig.add_axes(box(111, 728, 1382, 964))

draw_section(ax_a1, a_upper, upper_depth, a_iso, a_upper_labels, a_upper_label_lat, a_upper_label_depth, a_upper_label_rot)
draw_section(ax_a2, n2_deep, deep_depth, deep_iso, deep_a_labels, deep_a_label_lat, deep_a_label_depth, deep_a_label_rot)
draw_section(ax_b1, b_upper, upper_depth, b_iso, b_upper_labels, b_upper_label_lat, b_upper_label_depth, b_upper_label_rot)
draw_section(ax_b2, n2_deep, deep_depth, deep_iso, deep_b_labels, deep_b_label_lat, deep_b_label_depth, deep_b_label_rot)

for ax in [ax_a2, ax_b2]:
    cover_deep(ax)
ax_a1.fill_betweenx(upper_coast_depth, upper_coast_lat, 65, color="white", lw=0, zorder=3)
ax_b1.fill_betweenx(upper_coast_depth, upper_coast_lat, 65, color="white", lw=0, zorder=3)

for ax, lat, dep in [(ax_a1, a_mld_lat, a_mld_depth), (ax_a2, a_mld_deep_lat, a_mld_deep_depth), (ax_b1, b_mld_lat, b_mld_depth)]:
    sns.lineplot(x=lat, y=dep, ax=ax, color="white", lw=1.9, sort=False, estimator=None, legend=False, errorbar=None,
                 linestyle=(0, (3.2, 1.6)), zorder=4)

style_depth(ax_a1, False)
style_depth(ax_b1, False)
style_depth(ax_a2, True)
style_depth(ax_b2, True)

ax_b2.set_xticklabels(["60°S", "40°S", "20°S", "0°", "20°N", "40°N", "60°N"])
ax_b2.tick_params(axis="x", which="major", labelbottom=True, labelsize=FS, pad=2.5)
ax_a2.set_ylabel("Depth [m]", fontsize=FS, labelpad=3)
ax_b2.set_ylabel("Depth [m]", fontsize=FS, labelpad=3)
ax_a1.text(0, 1.04, "a)", transform=ax_a1.transAxes, fontsize=14, fontweight="bold", va="bottom", ha="left")
ax_b1.text(0, 1.04, "b)", transform=ax_b1.transAxes, fontsize=14, fontweight="bold", va="bottom", ha="left")

# shared colour bar
norm = BoundaryNorm(cbar_levels, 16)
cax = fig.add_axes(box(1419, 41, 1447, 704))
cb = fig.colorbar(ScalarMappable(norm=norm, cmap=plt.get_cmap("tab20b")), cax=cax, spacing="uniform", ticks=cbar_levels)
cb.ax.set_yticklabels(cbar_labels)
cb.ax.minorticks_off()
cb.ax.tick_params(labelsize=FS, length=3, width=0.8, pad=2)
cb.outline.set_linewidth(0.8)
cb.set_label(N2_LABEL, fontsize=FS, labelpad=2)

# profile columns
col_left = [111, 334, 558, 781, 1005, 1228]
for i in range(6):
    left = col_left[i]
    ax_u = fig.add_axes(box(left, 1051, left + 153.5, 1219))
    ax_d = fig.add_axes(box(left, 1243, left + 153.5, 1478))
    for ax in [ax_u, ax_d]:
        ax.set_xscale("log")
    rows = []
    for s, vals in zip(seasons, upper_profiles[i]):
        for de, v in zip(profile_depth, vals):
            rows.append({"depth": de, "n2": 10.0 ** v, "Season": s})
    df_u = pd.DataFrame(rows)
    sns.lineplot(data=df_u, x="n2", y="depth", hue="Season", hue_order=seasons, palette=season_colors, ax=ax_u,
                 sort=False, estimator=None, lw=1.9, orient="y", legend=(i == 5), errorbar=None)
    rows = []
    for s in seasons:
        for de, v in zip(profile_deep_depth, deep_profiles[i]):
            rows.append({"depth": de, "n2": 10.0 ** v, "Season": s})
    df_d = pd.DataFrame(rows)
    sns.lineplot(data=df_d, x="n2", y="depth", hue="Season", hue_order=seasons, palette=season_colors, ax=ax_d,
                 sort=False, estimator=None, lw=1.9, orient="y", legend=False, errorbar=None)
    for de, col in zip(station_mld[i], season_colors):
        ax_u.axhline(de, color=col, lw=0.8, ls=(0, (4, 1.5)), zorder=1)
    for ax, deep in [(ax_u, False), (ax_d, True)]:
        style_depth(ax, deep)
        ax.set_xlim(1e-6, 1e-3)
        ax.xaxis.set_major_locator(LogLocator(base=10, numticks=6))
        ax.xaxis.set_minor_locator(LogLocator(base=10, subs=np.arange(2, 10), numticks=12))
        ax.xaxis.set_minor_formatter(NullFormatter())
        ax.tick_params(axis="x", which="major", length=4, width=0.8, labelsize=FS, pad=2.5)
        ax.tick_params(axis="x", which="minor", length=2, width=0.6)
        ax.grid(True, which="major", color="#cccccc", lw=0.5, alpha=0.7)
        ax.set_axisbelow(True)
        ax.set_xlabel("")
        ax.set_ylabel("")
        if i > 0:
            ax.tick_params(axis="y", labelleft=False)
    ax_u.tick_params(axis="x", labelbottom=False)
    ax_d.set_xlabel(N2_LABEL, fontsize=FS, labelpad=3)
    if i == 0:
        ax_d.set_ylabel("Depth [m]", fontsize=FS, labelpad=3)
    ax_u.text(0, 1.05, station_tags[i], transform=ax_u.transAxes, fontsize=14, fontweight="bold", va="bottom", ha="left")
    ax_u.set_title(station_titles[i], fontsize=14, pad=4.5)
    if i == 5:
        sns.move_legend(ax_u, "upper left", bbox_to_anchor=(1.016, 1.025), title="Season", frameon=False,
                        fontsize=FS, title_fontsize=FS, labelspacing=0.58, handlelength=2.0, handletextpad=0.46, borderaxespad=0)

fig.savefig("out.png", dpi=300, facecolor="white")
